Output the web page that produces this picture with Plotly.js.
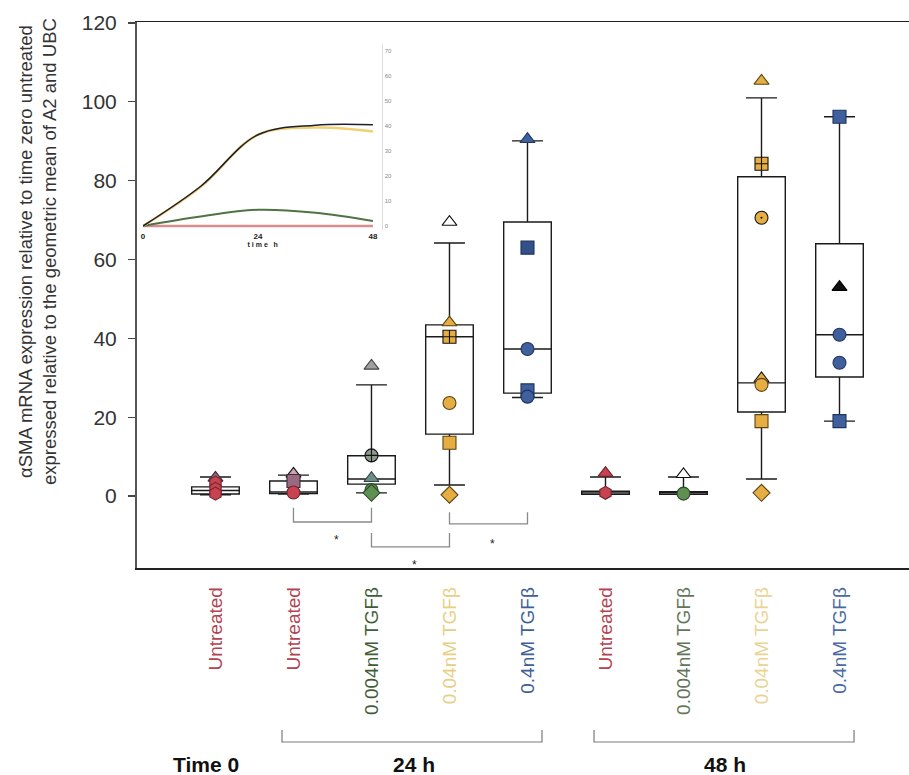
<!DOCTYPE html>
<html>
<head>
<meta charset="utf-8">
<script src="https://cdn.plot.ly/plotly-3.0.1.min.js"></script>
<style>
  html, body { margin: 0; padding: 0; background: #ffffff; }
  #chart { width: 909px; height: 775px; }
</style>
</head>
<body>
<div id="chart"></div>
<script>
// ---- Groups along the x axis ----
const categories = ['Untreated', 'Untreated', '0.004nM TGFβ', '0.04nM TGFβ', '0.4nM TGFβ',
                    'Untreated', '0.004nM TGFβ', '0.04nM TGFβ', '0.4nM TGFβ'];
const timeGroups = ['Time 0', '24 h', '48 h'];

// ---- Box summary statistics for each group ----
const lowerFence = [0.3, 0.5, 0.8, 2.8, 25.0, 0.4, 0.4, 4.3, 19.0];
const q1         = [0.5, 0.6, 3.0, 15.7, 26.1, 0.4, 0.4, 21.3, 30.2];
const median     = [1.4, 1.0, 4.3, 40.4, 37.3, 0.8, 0.8, 28.7, 40.9];
const q3         = [2.3, 3.8, 10.2, 43.4, 69.5, 1.2, 1.1, 81.0, 64.0];
const upperFence = [4.8, 5.3, 28.2, 64.2, 90.1, 4.8, 4.8, 101.0, 96.2];

// ---- Individual replicate values in each group ----
const t0Untreated  = [4.6, 3.4, 1.8, 0.6];
const h24Untreated = [5.6, 3.8, 0.9];
const h24Tgf0004   = [33.0, 10.3, 4.5, 1.5, 0.8];
const h24Tgf004    = [69.5, 44.0, 40.4, 23.6, 13.5, 0.3];
const h24Tgf04     = [90.5, 63.0, 37.3, 26.8, 25.2];
const h48Untreated = [5.8, 0.8];
const h48Tgf0004   = [5.5, 0.6];
const h48Tgf004    = [105.3, 84.3, 70.6, 29.8, 28.2, 19.0, 0.8];
const h48Tgf04     = [96.2, 53.0, 40.9, 33.8, 19.0];

// ---- Inset: time course (hours) ----
const insetHours     = [0, 12, 24, 36, 48];
const insetUntreated = [0, 0, 0, 0, 0];
const insetTgf0004   = [0, 3.8, 6.5, 5.3, 2.0];
const insetTgf004    = [0, 15.6, 36.5, 39.4, 37.8];
const insetTgf04     = [0, 15.8, 36.5, 40.3, 40.5];
const insetYTicks    = [0, 10, 20, 30, 40, 50, 60, 70];

// ---- Significant pairwise comparisons (group indices) ----
const comparisons = [[1, 2], [2, 3], [3, 4]];
const comparisonMarks = ['*', '*', '*'];

// ---------------- styling ----------------
const FONT = 'Liberation Sans, Arial, Helvetica, sans-serif';
const RED = '#c8424f', RED_D = '#6e2530';
const GREEN = '#5e9052', GREEN_D = '#2c4828';
const YELLOW = '#e6ae42', YELLOW_D = '#5a4414';
const BLUE = '#3f609c', BLUE_D = '#1f3460';
const labelColors = ['#b3434f', '#b3434f', '#3f5e38', '#e8cf86', '#3e5f98',
                     '#b3434f', '#62765a', '#ead394', '#4a6ba2'];

const groupPoints = [t0Untreated, h24Untreated, h24Tgf0004, h24Tgf004, h24Tgf04,
                     h48Untreated, h48Tgf0004, h48Tgf004, h48Tgf04];
const pointStyles = [
  { sym: ['triangle-up', 'hexagon', 'hexagon', 'hexagon'],
    fill: ['#8c6a80', RED, RED, RED], line: ['#3e2a36', RED_D, RED_D, RED_D] },
  { sym: ['triangle-up', 'square', 'circle'],
    fill: ['#c9a3b3', '#9a6a82', RED], line: ['#111111', '#3e2a36', RED_D] },
  { sym: ['triangle-up', 'circle-cross', 'triangle-up', 'circle', 'diamond'],
    fill: ['#a0a0a0', '#8a9a8a', '#6f8c8a', GREEN, GREEN], line: ['#444444', '#111111', '#2f4444', GREEN_D, GREEN_D] },
  { sym: ['triangle-up', 'triangle-up', 'square-cross', 'circle', 'square', 'diamond'],
    fill: ['#ffffff', YELLOW, YELLOW, YELLOW, YELLOW, YELLOW], line: ['#111111', YELLOW_D, '#111111', YELLOW_D, YELLOW_D, YELLOW_D] },
  { sym: ['triangle-up', 'square', 'circle', 'square', 'circle'],
    fill: [BLUE, '#34508a', BLUE, BLUE, BLUE], line: [BLUE_D, BLUE_D, BLUE_D, BLUE_D, BLUE_D] },
  { sym: ['triangle-up', 'hexagon'],
    fill: [RED, RED], line: [RED_D, RED_D] },
  { sym: ['triangle-up', 'circle'],
    fill: ['#ffffff', GREEN], line: ['#111111', GREEN_D] },
  { sym: ['triangle-up', 'square-cross', 'circle-dot', 'triangle-up', 'circle', 'square', 'diamond'],
    fill: [YELLOW, YELLOW, YELLOW, YELLOW, YELLOW, YELLOW, YELLOW],
    line: [YELLOW_D, '#111111', '#111111', '#111111', YELLOW_D, YELLOW_D, YELLOW_D] },
  { sym: ['square', 'triangle-up', 'circle', 'circle', 'square'],
    fill: [BLUE, '#111111', BLUE, BLUE, BLUE], line: [BLUE_D, '#000000', BLUE_D, BLUE_D, BLUE_D] }
];

const groupIndex = categories.map((_, i) => i);

const traces = [];

// Box plots from the summary statistics
traces.push({
  type: 'box',
  x: groupIndex,
  q1: q1, median: median, q3: q3,
  lowerfence: lowerFence, upperfence: upperFence,
  width: 0.61,
  whiskerwidth: 0.65,
  fillcolor: '#ffffff',
  line: { color: '#1a1a1a', width: 1.4 },
  boxpoints: false,
  hoverinfo: 'skip',
  showlegend: false
});

// Replicate points
groupPoints.forEach((vals, i) => {
  const st = pointStyles[i];
  traces.push({
    type: 'scatter', mode: 'markers',
    x: vals.map(() => i), y: vals,
    marker: { symbol: st.sym, size: 13, color: st.fill, line: { color: st.line, width: 1.1 } },
    showlegend: false, hoverinfo: 'y', cliponaxis: false
  });
});

// Inset time course
const insetSeries = [
  { y: insetUntreated, color: '#d98c8c', width: 2.6 },
  { y: insetTgf0004, color: '#4e7444', width: 2.0 },
  { y: insetTgf004, color: '#f1cf72', width: 2.6 },
  { y: insetTgf04, color: '#1c1f30', width: 1.5 }
];
insetSeries.forEach(s => {
  traces.push({
    type: 'scatter', mode: 'lines',
    x: insetHours, y: s.y,
    xaxis: 'x2', yaxis: 'y2',
    line: { color: s.color, width: s.width, shape: 'spline', smoothing: 1 },
    showlegend: false, hoverinfo: 'skip'
  });
});

// ---- decorations ----
const shapes = [];
const annotations = [];

// comparison brackets below the boxes
const bracketLevels = [[-3.0, -6.6], [-9.4, -12.9], [-4.1, -7.1]];
const markLevels = [-11.2, -17.6, -12.2];
comparisons.forEach((pair, k) => {
  const [a, b] = pair;
  const [top, bot] = bracketLevels[k];
  shapes.push({
    type: 'path', xref: 'x', yref: 'y',
    path: `M ${a},${top} L ${a},${bot} L ${b},${bot} L ${b},${top}`,
    line: { color: '#8a8a8a', width: 1.3 }
  });
  annotations.push({
    xref: 'x', yref: 'y', x: (a + b) / 2, y: markLevels[k], xshift: 4,
    text: comparisonMarks[k], showarrow: false,
    font: { family: FONT, size: 12, color: '#222' }
  });
});

// time-point brackets under the category labels
const spanBrackets = [[0.1878, 0.5246], [0.592, 0.9288]];
spanBrackets.forEach(([l, r]) => {
  shapes.push({
    type: 'path', xref: 'paper', yref: 'paper',
    path: `M ${l},-0.2967 L ${l},-0.3187 L ${r},-0.3187 L ${r},-0.2967`,
    line: { color: '#7a7a7a', width: 1.2 }
  });
});
const timeLabelX = [0.0894, 0.3582, 0.7617];
timeGroups.forEach((t, i) => {
  annotations.push({
    xref: 'paper', yref: 'paper', x: timeLabelX[i], y: -0.3608,
    xanchor: 'center', yanchor: 'middle',
    text: '<b>' + t + '</b>', showarrow: false,
    font: { family: FONT, size: 21, color: '#111' }
  });
});

// y-axis title
annotations.push({
  xref: 'paper', yref: 'paper', x: -0.1282, y: 0.5788,
  xanchor: 'center', yanchor: 'middle', textangle: -90,
  text: 'αSMA mRNA expression relative to time zero untreated<br>expressed relative to the geometric mean of A2 and UBC',
  showarrow: false,
  font: { family: FONT, size: 18.5, color: '#333' }
});

const layout = {
  width: 909, height: 775,
  margin: { l: 137, r: 0, t: 22, b: 207, pad: 0 },
  paper_bgcolor: '#ffffff', plot_bgcolor: '#ffffff',
  font: { family: FONT, color: '#333' },
  showlegend: false,
  xaxis: {
    range: [-1.006, 8.891],
    tickvals: groupIndex,
    ticktext: categories.map((c, i) => `<span style="color:${labelColors[i]}">${c}</span>`),
    tickangle: -90,
    tickfont: { family: FONT, size: 19 },
    ticks: '', ticklabelstandoff: 10,
    showline: true, linecolor: '#222', linewidth: 1.5, mirror: true,
    showgrid: false, zeroline: false
  },
  yaxis: {
    range: [-18.27, 120.25],
    tickvals: [0, 20, 40, 60, 80, 100, 120],
    tickfont: { family: FONT, size: 21, color: '#333' },
    ticks: 'outside', ticklen: 7, tickcolor: '#444', tickwidth: 1.2,
    ticklabelstandoff: 7,
    showline: true, linecolor: '#555', linewidth: 2,
    showgrid: false, zeroline: false
  },
  xaxis2: {
    domain: [0.00777, 0.318], range: [0, 50], anchor: 'y2',
    tickvals: [0, 24, 48], ticks: '',
    tickfont: { family: FONT, size: 8, color: '#222', weight: 'bold' },
    title: { text: '<b>t i m e   h</b>', font: { family: FONT, size: 7, color: '#222' }, standoff: 1 },
    showline: false, showgrid: false, zeroline: false
  },
  yaxis2: {
    domain: [0.6195, 0.9606], range: [-1.5, 73], anchor: 'x2', side: 'right',
    tickvals: insetYTicks, ticks: '',
    tickfont: { family: FONT, size: 6, color: '#888' },
    showline: true, linecolor: '#dcdcdc', linewidth: 1,
    showgrid: false, zeroline: false
  },
  shapes: shapes,
  annotations: annotations
};

Plotly.newPlot('chart', traces, layout, { displayModeBar: false, staticPlot: true });
</script>
</body>
</html>
